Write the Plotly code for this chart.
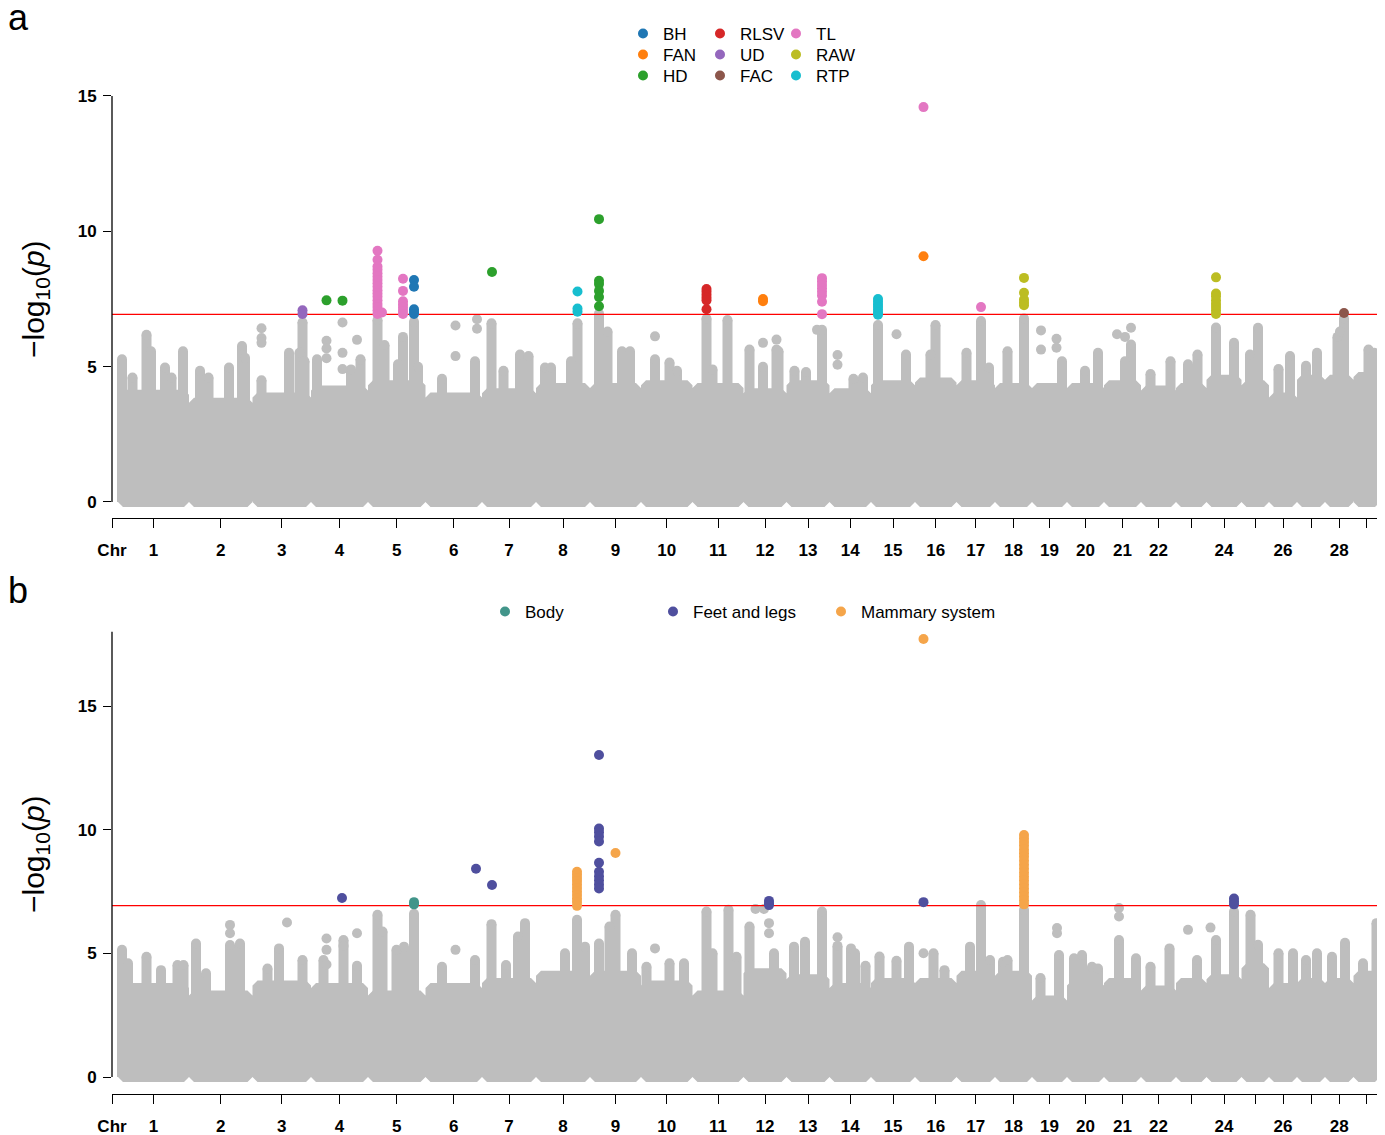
import itertools
import plotly.graph_objects as go

# the page places the figure 8 px from the window's top-left corner
PAGE_OFF = 8
W, H = 1385 - PAGE_OFF, 1135 - PAGE_OFF
FONT = "Liberation Sans, Arial, Helvetica, sans-serif"
GRAY = "#BEBEBE"


def fx(px):
    return (px - PAGE_OFF) / W


def fy(py):
    return 1 - (py - PAGE_OFF) / H


# ---------------- data ----------------
chrom_len = [142, 127, 117, 114, 115, 113, 108, 108, 102, 103, 102, 86, 86, 83, 88,
             83, 77, 74, 70, 74, 74, 70, 61, 70, 55, 56, 56, 57, 53]
chrom_tick_text = ["1", "2", "3", "4", "5", "6", "7", "8", "9", "10", "11", "12", "13", "14",
                   "15", "16", "17", "18", "19", "20", "21", "22", "", "24", "", "26", "", "28", ""]
threshold = 6.93

# bulk level of the grey cloud for each chromosome
bulk_a = [4.15, 3.85, 4.05, 4.3, 4.5, 4.05, 4.2, 4.4, 4.4, 4.5, 4.4, 4.2, 4.5, 4.2, 4.5,
          4.6, 4.5, 4.4, 4.4, 4.4, 4.5, 4.3, 4.4, 4.7, 4.5, 4.05, 4.7, 4.7, 4.8]
bulk_b = [3.8, 3.5, 3.9, 3.8, 3.5, 3.8, 4.0, 4.3, 4.3, 3.9, 3.5, 4.4, 4.15, 3.8, 4.0,
          4.0, 4.3, 4.3, 3.3, 3.9, 4.0, 3.7, 4.0, 4.15, 4.6, 3.8, 4.0, 4.0, 4.3]

# grey towers (chromosome, position, top value)
towers_a = [(1, 8, 5.27), (1, 29, 4.6), (1, 57, 6.18), (1, 66, 5.57), (1, 94, 4.97), (1, 107, 4.6), (1, 130, 5.57),
            (2, 22, 4.85), (2, 39, 4.6), (2, 80, 4.97), (2, 106, 5.76), (2, 112, 5.33),
            (3, 18, 4.5), (3, 73, 5.51), (3, 94, 5.51), (3, 100, 6.64), (3, 104, 5.2),
            (4, 12, 5.27), (4, 80, 4.9), (4, 99, 5.27),
            (5, 19, 6.72), (5, 33, 5.8), (5, 60, 5.09), (5, 70, 6.1), (5, 92, 6.66), (5, 100, 5.0),
            (6, 33, 4.55), (6, 99, 5.2),
            (7, 19, 6.6), (7, 43, 4.85), (7, 76, 5.45), (7, 93, 5.39),
            (8, 18, 4.97), (8, 30, 4.97), (8, 70, 5.2), (8, 83, 6.6),
            (9, 18, 6.96), (9, 35, 6.3), (9, 64, 5.57), (9, 80, 5.57),
            (10, 28, 5.27), (10, 57, 5.15), (10, 72, 4.85),
            (11, 28, 6.78), (11, 40, 4.9), (11, 70, 6.72),
            (12, 12, 5.63), (12, 39, 5.0), (12, 66, 5.63), (12, 70, 5.57),
            (13, 16, 4.85), (13, 39, 4.8), (13, 71, 6.36),
            (14, 48, 4.55), (14, 67, 4.6),
            (15, 14, 6.54), (15, 70, 5.45),
            (16, 31, 5.45), (16, 41, 6.54),
            (17, 20, 5.51), (17, 49, 6.69), (17, 65, 4.97),
            (18, 25, 5.57), (18, 58, 6.78),
            (19, 60, 5.2),
            (20, 36, 4.85), (20, 62, 5.51),
            (21, 42, 5.2), (21, 54, 5.82),
            (22, 19, 4.73), (22, 59, 5.2),
            (23, 24, 5.09), (23, 43, 5.45),
            (24, 19, 6.45), (24, 55, 5.88),
            (25, 17, 5.45), (25, 33, 6.44),
            (26, 19, 4.91), (26, 42, 5.39),
            (27, 18, 5.03), (27, 40, 5.51),
            (28, 25, 6.1), (28, 30, 6.3), (28, 38, 6.78),
            (29, 30, 5.63), (29, 42, 5.51)]
dots_a = [(3, 18, 6.42), (3, 18, 6.06), (3, 18, 5.88),
          (4, 31, 5.96), (4, 31, 5.67), (4, 31, 5.31), (4, 63, 6.63), (4, 63, 5.51), (4, 63, 4.91), (4, 92, 5.99),
          (6, 60, 6.52), (6, 60, 5.39), (6, 103, 6.75), (6, 103, 6.4),
          (10, 28, 6.12), (12, 39, 5.88), (12, 66, 6.0), (13, 61, 6.36),
          (14, 16, 5.43), (14, 16, 5.07), (15, 51, 6.2),
          (19, 18, 6.34), (19, 18, 5.63), (19, 49, 6.03), (19, 49, 5.7),
          (21, 26, 6.2), (21, 54, 6.44), (21, 42, 6.1)]

towers_b = [(1, 8, 5.14), (1, 20, 4.6), (1, 57, 4.86), (1, 86, 4.32), (1, 119, 4.53), (1, 131, 4.53),
            (2, 14, 5.4), (2, 34, 4.19), (2, 82, 5.34), (2, 102, 5.4),
            (3, 30, 4.39), (3, 53, 5.2), (3, 100, 4.73),
            (4, 25, 4.73), (4, 65, 5.54), (4, 92, 4.5),
            (5, 19, 6.56), (5, 29, 5.88), (5, 57, 5.14), (5, 72, 5.27), (5, 92, 6.6),
            (6, 33, 4.46), (6, 99, 4.73),
            (7, 19, 6.18), (7, 48, 4.53), (7, 72, 5.68), (7, 86, 6.22),
            (8, 58, 5.0), (8, 82, 6.36), (8, 98, 5.27),
            (9, 18, 5.4), (9, 39, 6.08), (9, 51, 6.56), (9, 84, 5.0),
            (10, 11, 4.46), (10, 57, 4.6), (10, 86, 4.6),
            (11, 28, 6.69), (11, 40, 5.0), (11, 72, 6.76), (11, 88, 4.86),
            (12, 12, 6.08), (12, 61, 5.0),
            (13, 15, 5.27), (13, 37, 5.47), (13, 71, 6.69),
            (14, 16, 5.3), (14, 43, 5.2), (14, 51, 5.0), (14, 72, 4.5),
            (15, 17, 4.87), (15, 51, 4.7), (15, 76, 5.27),
            (16, 37, 5.0), (16, 59, 4.32),
            (17, 27, 5.27), (17, 49, 6.95), (17, 67, 4.73),
            (18, 16, 4.66), (18, 25, 4.73), (18, 58, 6.76),
            (19, 17, 4.0), (19, 54, 4.93),
            (20, 14, 4.8), (20, 30, 4.93), (20, 50, 4.46), (20, 62, 4.39),
            (21, 30, 5.54), (21, 64, 4.8),
            (22, 19, 4.46), (22, 57, 5.2),
            (23, 42, 4.73),
            (24, 19, 5.54), (24, 55, 6.69),
            (25, 18, 6.56), (25, 33, 5.35),
            (26, 19, 5.0), (26, 48, 5.0),
            (27, 18, 4.73), (27, 40, 5.0),
            (28, 14, 4.86), (28, 40, 5.43),
            (29, 19, 4.6), (29, 46, 6.22)]
dots_b = [(2, 82, 6.15), (2, 82, 5.81), (3, 69, 6.25),
          (4, 31, 5.6), (4, 31, 5.14), (4, 31, 4.55), (4, 92, 5.81), (4, 65, 5.3),
          (6, 60, 5.14), (10, 28, 5.2),
          (12, 24, 6.79), (12, 41, 6.79), (12, 51, 6.22), (12, 51, 5.81),
          (14, 16, 5.65), (16, 17, 5.0), (19, 50, 6.02), (19, 50, 5.81),
          (21, 30, 6.83), (21, 30, 6.49), (23, 24, 5.95), (24, 8, 6.04)]

# significant hits, panel a (chromosome, position, -log10 p)
BH = [(5, 92, 8.20), (5, 92, 7.95), (5, 92, 7.12), (5, 92, 7.02), (5, 92, 6.95)]
FAN = [(12, 39, 7.50), (12, 39, 7.42), (16, 17, 9.08)]
HD = [(4, 31, 7.45), (4, 63, 7.44), (7, 20, 8.50), (9, 18, 10.45), (9, 18, 8.17), (9, 18, 8.05),
      (9, 18, 7.80), (9, 18, 7.57), (9, 18, 7.23)]
RLSV = [(11, 28, 7.87), (11, 28, 7.77), (11, 28, 7.66), (11, 28, 7.55), (11, 28, 7.45), (11, 28, 7.12)]
UD = [(3, 100, 7.08), (3, 100, 6.95)]
FAC = [(28, 38, 6.98)]
TL = [(5, 19, 9.28), (5, 19, 8.95), (5, 19, 8.70), (5, 19, 8.58), (5, 19, 8.45), (5, 19, 8.32),
      (5, 19, 8.20), (5, 19, 8.08), (5, 19, 7.95), (5, 19, 7.82), (5, 19, 7.70), (5, 19, 7.58),
      (5, 19, 7.45), (5, 19, 7.32), (5, 19, 7.20), (5, 19, 7.08), (5, 19, 6.95), (5, 28, 7.00),
      (5, 70, 8.25), (5, 70, 7.80), (5, 70, 7.42), (5, 70, 7.30), (5, 70, 7.18), (5, 70, 7.06), (5, 70, 6.95),
      (13, 71, 8.27), (13, 71, 8.15), (13, 71, 8.02), (13, 71, 7.90), (13, 71, 7.77), (13, 71, 7.63),
      (13, 71, 7.40), (13, 71, 6.94), (16, 17, 14.59), (17, 49, 7.20)]
RAW = [(18, 58, 8.28), (18, 58, 7.73), (18, 58, 7.48), (18, 58, 7.37), (18, 58, 7.27),
       (24, 19, 8.30), (24, 19, 7.70), (24, 19, 7.60), (24, 19, 7.45), (24, 19, 7.32), (24, 19, 7.20),
       (24, 19, 7.08), (24, 19, 6.95)]
RTP = [(8, 83, 7.78), (8, 83, 7.15), (8, 83, 7.03), (15, 14, 7.50), (15, 14, 7.40), (15, 14, 7.30),
       (15, 14, 7.20), (15, 14, 7.10), (15, 14, 7.00), (15, 14, 6.92)]

# significant hits, panel b
Body = [(5, 92, 7.07), (5, 92, 6.98)]
Feet = [(4, 62, 7.24), (6, 101, 8.42), (7, 20, 7.76), (9, 18, 13.02), (9, 18, 10.05), (9, 18, 9.90),
        (9, 18, 9.72), (9, 18, 9.52), (9, 18, 8.66), (9, 18, 8.30), (9, 18, 8.12), (9, 18, 7.95),
        (9, 18, 7.78), (9, 18, 7.62), (12, 51, 7.12), (12, 51, 7.02), (12, 51, 6.95), (16, 17, 7.07),
        (24, 55, 7.22), (24, 55, 7.10), (24, 55, 6.98)]
Mammary = [(8, 82, 8.30), (8, 82, 8.18), (8, 82, 8.05), (8, 82, 7.92), (8, 82, 7.78), (8, 82, 7.64),
           (8, 82, 7.50), (8, 82, 7.36), (8, 82, 7.22), (8, 82, 7.08), (8, 82, 6.92), (9, 51, 9.06),
           (16, 17, 17.71), (18, 58, 9.78), (18, 58, 9.64), (18, 58, 9.50), (18, 58, 9.36), (18, 58, 9.20),
           (18, 58, 9.05), (18, 58, 8.90), (18, 58, 8.74), (18, 58, 8.58), (18, 58, 8.42), (18, 58, 8.26),
           (18, 58, 8.10), (18, 58, 7.94), (18, 58, 7.78), (18, 58, 7.62), (18, 58, 7.46), (18, 58, 7.30),
           (18, 58, 7.14), (18, 58, 6.98)]

# ---------------- layout helpers ----------------
offsets = [0] + list(itertools.accumulate(chrom_len))[:-1]
total_len = sum(chrom_len)
mids = [o + l / 2 for o, l in zip(offsets, chrom_len)]
X_RANGE = [-12, total_len]
X_PX = [112, 1380]


def gx(c, p):
    return offsets[c - 1] + p


MS = 10  # marker diameter (px)

panels = {
    "a": dict(zero=502, fifteen=96, yrange=[-0.3, 15.2], axis_px=518, ytop=15, title_px=299,
              bulk=bulk_a, towers=towers_a, dots=dots_a, xa="x", ya="y"),
    "b": dict(zero=1077, fifteen=706, yrange=[-0.3, 18.3], axis_px=1094, ytop=18, title_px=854,
              bulk=bulk_b, towers=towers_b, dots=dots_b, xa="x2", ya="y2"),
}

fig = go.Figure()

for key, P in panels.items():
    ppu = (P["zero"] - P["fifteen"]) / 15.0
    P["ppu"] = ppu
    cx = (MS / 2) * (X_RANGE[1] - X_RANGE[0]) / (X_PX[1] - X_PX[0])
    cy = (MS / 2) / ppu
    px_, py_ = [], []
    for i, h in enumerate(P["bulk"]):
        s, e = offsets[i], offsets[i] + chrom_len[i]
        px_ += [s + cx, e - cx, e, e, e - cx, s + cx, s, s, s + cx, None]
        py_ += [-cy, -cy, 0, h - cy, h, h, h - cy, 0, -cy, None]
    fig.add_trace(go.Scatter(x=px_, y=py_, mode="lines", fill="toself", fillcolor=GRAY,
                             line=dict(width=0, color=GRAY), hoverinfo="skip", showlegend=False,
                             xaxis=P["xa"], yaxis=P["ya"]))
    tx, ty = [], []
    for c, p, t in P["towers"]:
        tx += [gx(c, p), gx(c, p), None]
        ty += [0, t, None]
    fig.add_trace(go.Scatter(x=tx, y=ty, mode="lines", line=dict(width=MS, color=GRAY),
                             hoverinfo="skip", showlegend=False, xaxis=P["xa"], yaxis=P["ya"]))
    pts = P["towers"] + P["dots"]
    fig.add_trace(go.Scatter(x=[gx(c, p) for c, p, _ in pts], y=[v for _, _, v in pts],
                             mode="markers", marker=dict(size=MS, color=GRAY, line=dict(width=0)),
                             hoverinfo="skip", showlegend=False, cliponaxis=False,
                             xaxis=P["xa"], yaxis=P["ya"]))
    fig.add_trace(go.Scatter(x=X_RANGE, y=[threshold, threshold], mode="lines",
                             line=dict(color="#FF0000", width=1.2), hoverinfo="skip",
                             showlegend=False, xaxis=P["xa"], yaxis=P["ya"]))

# legend positions: (marker centre x px, row centre y px)
traits_a = [
    ("BH", BH, "#1F77B4", 645, 33), ("FAN", FAN, "#FF7F0E", 645, 54), ("HD", HD, "#2CA02C", 645, 75),
    ("RLSV", RLSV, "#D62728", 722, 33), ("UD", UD, "#9467BD", 722, 54), ("FAC", FAC, "#8C564B", 722, 75),
    ("TL", TL, "#E377C2", 798, 33), ("RAW", RAW, "#BCBD22", 798, 54), ("RTP", RTP, "#17BECF", 798, 75),
]
traits_b = [("Body", Body, "#42958A", 507, 611), ("Feet and legs", Feet, "#4F4F9E", 675, 611),
            ("Mammary system", Mammary, "#F5A54A", 843, 611)]

legend_layout = {}
leg_common = dict(font=dict(family=FONT, size=17, color="black"), bgcolor="rgba(0,0,0,0)",
                  itemwidth=30, tracegroupgap=0, xanchor="left", yanchor="top", orientation="v")
n = 0
for group, (xa, ya) in ((traits_a, ("x", "y")), (traits_b, ("x2", "y2"))):
    for name, data, col, mx, my in group:
        n += 1
        lid = "legend" if n == 1 else f"legend{n}"
        legend_layout[lid] = dict(x=fx(mx - 22), y=fy(my - 17), **leg_common)
        fig.add_trace(go.Scatter(x=[gx(c, p) for c, p, _ in data], y=[v for _, _, v in data],
                                 mode="markers", name=name, legend=lid, cliponaxis=False,
                                 marker=dict(size=MS, color=col, line=dict(width=0)),
                                 xaxis=xa, yaxis=ya))

# ---------------- axes ----------------
tickvals = [X_RANGE[0]] + mids
ticktext = ["Chr"] + chrom_tick_text
xdom = [fx(X_PX[0]), fx(X_PX[1])]
shapes, annotations = [], []
for key, P in panels.items():
    ppu = P["ppu"]
    y_lo_px = P["zero"] - P["yrange"][0] * ppu
    y_hi_px = P["zero"] - P["yrange"][1] * ppu
    ydom = [fy(y_lo_px), fy(y_hi_px)]
    xname = "xaxis" if key == "a" else "xaxis2"
    yname = "yaxis" if key == "a" else "yaxis2"
    fig.update_layout(**{
        xname: dict(domain=xdom, range=X_RANGE, anchor="free", position=fy(P["axis_px"]),
                    automargin=False,
                    showline=True, linecolor="black", linewidth=1.3, ticks="outside", ticklen=9,
                    tickwidth=1.3, tickcolor="black", tickmode="array", tickvals=tickvals,
                    ticktext=ticktext, showgrid=False, zeroline=False, ticklabelstandoff=7,
                    tickfont=dict(family=FONT, size=17, color="black", weight="bold")),
        yname: dict(domain=ydom, range=P["yrange"], anchor=P["xa"], showline=False, automargin=False,
                    ticks="outside", ticklen=8, tickwidth=1.3, tickcolor="black", ticklabelstandoff=3,
                    tickmode="array", tickvals=[0, 5, 10, 15], showgrid=False, zeroline=False,
                    tickfont=dict(family=FONT, size=17, color="black", weight="bold")),
    })
    shapes.append(dict(type="line", xref="paper", yref=P["ya"], x0=xdom[0], x1=xdom[0],
                       y0=0, y1=P["ytop"], line=dict(color="black", width=1.3)))
    annotations.append(dict(text="\u2212log<sub>10</sub>(<i>p</i>)", textangle=-90, xref="paper",
                            yref="paper", x=fx(35), y=fy(P["title_px"]), xanchor="center",
                            yanchor="middle", showarrow=False,
                            font=dict(family=FONT, size=30, color="black")))

annotations.append(dict(text="a", xref="paper", yref="paper", x=fx(18), y=fy(17),
                        xanchor="center", yanchor="middle",
                        showarrow=False, font=dict(family=FONT, size=36, color="black")))
annotations.append(dict(text="b", xref="paper", yref="paper", x=fx(18), y=fy(590),
                        xanchor="center", yanchor="middle",
                        showarrow=False, font=dict(family=FONT, size=36, color="black")))

fig.update_layout(
    width=W, height=H, margin=dict(l=0, r=0, t=0, b=0, autoexpand=False),
    paper_bgcolor="white", plot_bgcolor="white",
    shapes=shapes, annotations=annotations, **legend_layout,
)

fig.write_html("out.html")
